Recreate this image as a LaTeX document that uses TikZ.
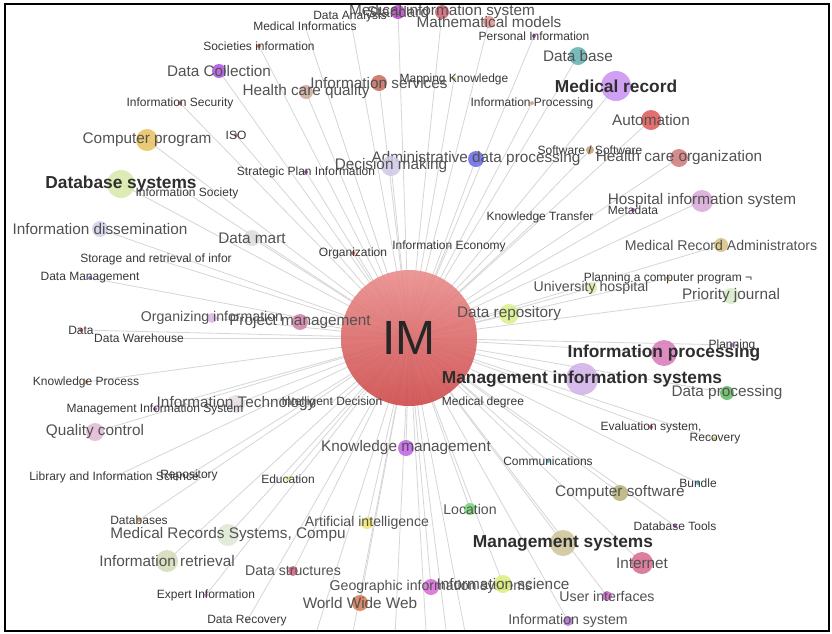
\documentclass[tikz,border=0pt]{standalone}
\usepackage{fontspec}
\setmainfont{Liberation Sans}
\pgfdeclarelayer{bg}
\pgfsetlayers{bg,main}
\definecolor{cStand}{HTML}{C040D0}
\definecolor{cRose}{HTML}{D06070}
\definecolor{cPeach}{HTML}{E09090}
\definecolor{cViolet}{HTML}{A040C0}
\definecolor{cRust}{HTML}{D06040}
\definecolor{cTeal}{HTML}{60B0B0}
\definecolor{cOrchid}{HTML}{B050E0}
\definecolor{cLime}{HTML}{A0D060}
\definecolor{cBrick}{HTML}{C86A5A}
\definecolor{cTan}{HTML}{D0A898}
\definecolor{cLilac}{HTML}{C890F0}
\definecolor{cRed}{HTML}{E04040}
\definecolor{cSand}{HTML}{D0A070}
\definecolor{cCoral}{HTML}{E05555}
\definecolor{cMauve}{HTML}{C06080}
\definecolor{cGold}{HTML}{E8C060}
\definecolor{cKhaki}{HTML}{C8A070}
\definecolor{cBlue}{HTML}{6868E8}
\definecolor{cLav}{HTML}{CFC8E8}
\definecolor{cDusty}{HTML}{D07878}
\definecolor{cYGreen}{HTML}{D8E8A8}
\definecolor{cThistle}{HTML}{D8A8D8}
\definecolor{cPale}{HTML}{D0D0EC}
\definecolor{cSilver}{HTML}{DCDCDC}
\definecolor{cOchre}{HTML}{D8C080}
\definecolor{cPurp}{HTML}{9060D0}
\definecolor{cCream}{HTML}{E4E8A8}
\definecolor{cMint}{HTML}{D8E8C8}
\definecolor{cChart}{HTML}{D8F088}
\definecolor{cHeather}{HTML}{D8B8E0}
\definecolor{cPink}{HTML}{D080A8}
\definecolor{cPlum}{HTML}{A060D0}
\definecolor{cMagenta}{HTML}{D878B8}
\definecolor{cWisteria}{HTML}{D0B0E8}
\definecolor{cOrange}{HTML}{D09050}
\definecolor{cGreen}{HTML}{60B860}
\definecolor{cBlush}{HTML}{E4DCE4}
\definecolor{cFuchsia}{HTML}{B050B0}
\definecolor{cRosy}{HTML}{E0B8D4}
\definecolor{cCerise}{HTML}{D04080}
\definecolor{cMustard}{HTML}{D0C040}
\definecolor{cAmethyst}{HTML}{C060E8}
\definecolor{cCyan}{HTML}{40B0C0}
\definecolor{cYellow}{HTML}{E0E060}
\definecolor{cOlive}{HTML}{B8B078}
\definecolor{cLeaf}{HTML}{70D870}
\definecolor{cAmber}{HTML}{E09040}
\definecolor{cLemon}{HTML}{F0E468}
\definecolor{cFog}{HTML}{DDE8D4}
\definecolor{cSage}{HTML}{CCC498}
\definecolor{cRaspb}{HTML}{D86890}
\definecolor{cMoss}{HTML}{D4DCB8}
\definecolor{cRuby}{HTML}{D06080}
\definecolor{cPhlox}{HTML}{D868D8}
\definecolor{cKiwi}{HTML}{DCF078}
\definecolor{cCandy}{HTML}{D080C0}
\definecolor{cOrchidB}{HTML}{D060D0}
\definecolor{cTerra}{HTML}{D87850}
\definecolor{cIris}{HTML}{B070D0}
\definecolor{cHub}{HTML}{E05050}
\tikzset{
  bub/.style={circle,inner sep=0pt,minimum size=#1*1.5pt,fill opacity=0.85,text opacity=1},
  sm/.style={font=\fontsize{9}{10}\selectfont,text=black!78,inner sep=0pt},
  ms/.style={font=\fontsize{10.6}{12}\selectfont,text=black!68,inner sep=0pt},
  md/.style={font=\fontsize{11.5}{13}\selectfont,text=black!68,inner sep=0pt},
  big/.style={font=\bfseries\fontsize{13}{15}\selectfont,text=black!82,inner sep=0pt},
  link/.style={draw=black!16,line width=0.6pt},
}
\begin{document}
\begin{tikzpicture}[x=0.75pt,y=-0.75pt]
\useasboundingbox (0,0) rectangle (832,633);
% hub
\node[circle,inner sep=0pt,minimum size=136*0.75pt,top color=cHub!65!white,bottom color=cHub!92!black,
  fill opacity=0.9,text opacity=1,font=\fontsize{36}{40}\selectfont,text=black!85] (im) at (409,338) {IM};
% keywords, top
\node[bub=1.5,fill=gray!50,label={[sm]center:Data Analysis}] (dana) at (350,16) {};
\node[bub=7,fill=cStand,label={[md]center:Standard}] (stand) at (398,12) {};
\node[bub=7,fill=cRose,label={[md]center:Medical information system}] (medis) at (442,12) {};
\node[bub=6,fill=cPeach,label={[md]center:Mathematical models}] (mathm) at (489,22) {};
\node[bub=1.5,fill=gray!50,label={[sm]center:Medical Informatics}] (medinf) at (305,26) {};
\node[bub=2,fill=cViolet,label={[sm]center:Personal Information}] (persinf) at (534,36) {};
\node[bub=2,fill=cRust,label={[sm]center:Societies information}] (socinf) at (259,46) {};
\node[bub=9,fill=cTeal,label={[md]center:Data base}] (dbase) at (578,56) {};
\node[bub=7,fill=cOrchid,label={[md]center:Data Collection}] (dcoll) at (219,71) {};
\node[bub=2,fill=cLime,label={[sm]center:Mapping Knowledge}] (mapk) at (454,79) {};
\node[bub=8,fill=cBrick,label={[md]center:Information services}] (infserv) at (379,83) {};
\node[bub=7,fill=cTan,label={[md]center:Health care quality}] (hcq) at (306,92) {};
\node[bub=15,fill=cLilac,label={[big]center:Medical record}] (medrec) at (616,86) {};
\node[bub=2,fill=cRed,label={[sm]center:Information Security}] (infsec) at (180,103) {};
\node[bub=2,fill=cSand,label={[sm]center:Information Processing}] (infproc) at (532,103) {};
\node[bub=10,fill=cCoral,label={[md]center:Automation}] (autom) at (651,120) {};
\node[bub=2,fill=cMauve,label={[sm]center:ISO}] (iso) at (236,135) {};
\node[bub=11,fill=cGold,label={[md]center:Computer program}] (comprog) at (147,140) {};
\node[bub=4,fill=cKhaki,label={[sm]center:Software / Software}] (softw) at (590,150) {};
\node[bub=8,fill=cBlue,label={[md]center:Administrative data processing}] (adp) at (476,159) {};
\node[bub=10,fill=cLav,label={[md]center:Decision making}] (decm) at (391,166) {};
\node[bub=9,fill=cDusty,label={[md]center:Health care organization}] (hco) at (679,158) {};
\node[bub=2,fill=cViolet,label={[sm]center:Strategic Plan Information}] (strat) at (306,172) {};
\node[bub=14,fill=cYGreen,label={[big]center:Database systems}] (dbsys) at (121,184) {};
\node[bub=1.5,fill=gray!50,label={[sm]center:Information Society}] (infsoc) at (187,193) {};
\node[bub=11,fill=cThistle,label={[md]center:Hospital information system}] (his) at (702,201) {};
\node[bub=2,fill=cViolet,label={[sm]center:Metadata}] (meta) at (633,210) {};
\node[bub=1.5,fill=gray!50,label={[sm]center:Knowledge Transfer}] (ktrans) at (540,217) {};
% keywords, middle
\node[bub=8,fill=cPale,label={[md]center:Information dissemination}] (infdis) at (100,229) {};
\node[bub=8,fill=cSilver,label={[md]center:Data mart}] (dmart) at (252,238) {};
\node[bub=7,fill=cOchre,label={[ms]center:Medical Record Administrators}] (mra) at (721,245) {};
\node[bub=1.5,fill=gray!50,label={[sm]center:Storage and retrieval of infor}] (storage) at (156,259) {};
\node[bub=1.5,fill=gray!50,label={[sm]center:Information Economy}] (infeco) at (449,246) {};
\node[bub=2,fill=cRed,label={[sm]center:Organization}] (orga) at (353,253) {};
\node[bub=2,fill=cPurp,label={[sm]center:Data Management}] (dmgmt) at (90,278) {};
\node[bub=2,fill=cSand,label={[sm]center:Planning a computer program ¬}] (pcp) at (668,278) {};
\node[bub=6,fill=cCream,label={[ms]center:University hospital}] (unih) at (591,288) {};
\node[bub=8,fill=cMint,label={[md]center:Priority journal}] (prij) at (731,296) {};
\node[bub=10,fill=cChart,label={[md]center:Data repository}] (drep) at (509,314) {};
\node[bub=5,fill=cHeather,label={[ms]center:Organizing information}] (orginf) at (212,318) {};
\node[bub=8,fill=cPink,label={[md]center:Project management}] (projm) at (300,322) {};
\node[bub=2,fill=cRed,label={[sm]center:Data}] (data) at (81,330) {};
\node[bub=1.5,fill=gray!50,label={[sm]center:Data Warehouse}] (dware) at (139,338) {};
\node[bub=2,fill=cPlum,label={[sm]center:Planning}] (plann) at (732,345) {};
\node[bub=13,fill=cMagenta,label={[big]center:Information processing}] (infpro) at (664,353) {};
\node[bub=16,fill=cWisteria,label={[big]center:Management information systems}] (mis) at (582,379) {};
\node[bub=2,fill=cOrange,label={[sm]center:Knowledge Process}] (kproc) at (86,382) {};
\node[bub=7,fill=cGreen,label={[md]center:Data processing}] (dproc) at (727,393) {};
\node[bub=1.5,fill=gray!50,label={[sm]center:Intelligent Decision}] (intd) at (332,402) {};
\node[bub=9,fill=cBlush,label={[md]center:Information Technology}] (itech) at (236,404) {};
\node[bub=1.5,fill=gray!50,label={[sm]center:Medical degree}] (medd) at (483,402) {};
\node[bub=2,fill=cFuchsia,label={[sm]center:Management Information System}] (mis2) at (155,409) {};
\node[bub=9,fill=cRosy,label={[md]center:Quality control}] (qc) at (95,432) {};
\node[bub=2,fill=cCerise,label={[sm]center:{Evaluation system,}}] (evals) at (651,427) {};
\node[bub=2,fill=cMustard,label={[sm]center:Recovery}] (recov) at (715,439) {};
\node[bub=8,fill=cAmethyst,label={[md]center:Knowledge management}] (km) at (406,448) {};
% keywords, bottom
\node[bub=2,fill=cCyan,label={[sm]center:Communications}] (comm) at (548,461) {};
\node[bub=1.5,fill=gray!50,label={[sm]center:Library and Information Science}] (lis) at (114,477) {};
\node[bub=1.5,fill=gray!50,label={[sm]center:Repository}] (repo) at (189,475) {};
\node[bub=2.5,fill=cYellow,label={[sm]center:Education}] (educ) at (288,479) {};
\node[bub=2,fill=cCyan,label={[sm]center:Bundle}] (bund) at (698,483) {};
\node[bub=8,fill=cOlive,label={[md]center:Computer software}] (csoft) at (620,493) {};
\node[bub=6,fill=cLeaf,label={[ms]center:Location}] (loc) at (470,509) {};
\node[bub=2,fill=cAmber,label={[sm]center:Databases}] (dbases) at (139,520) {};
\node[bub=6,fill=cLemon,label={[ms]center:Artificial intelligence}] (ai) at (367,523) {};
\node[bub=2,fill=cViolet,label={[sm]center:Database Tools}] (dbt) at (675,526) {};
\node[bub=11,fill=cFog,label={[md]center:{Medical Records Systems, Compu}}] (mrsc) at (228,535) {};
\node[bub=13,fill=cSage,label={[big]center:Management systems}] (msys) at (563,543) {};
\node[bub=11,fill=cRaspb,label={[md]center:Internet}] (inet) at (642,563) {};
\node[bub=11,fill=cMoss,label={[md]center:Information retrieval}] (infret) at (167,561) {};
\node[bub=5,fill=cRuby,label={[ms]center:Data structures}] (dstr) at (293,571) {};
\node[bub=8,fill=cPhlox,label={[ms]center:Geographic information systems}] (gis) at (431,587) {};
\node[bub=9,fill=cKiwi,label={[md]center:Information science}] (infsci) at (503,584) {};
\node[bub=2,fill=cCandy,label={[sm]center:Expert Information}] (expert) at (206,595) {};
\node[bub=5,fill=cOrchidB,label={[ms]center:User interfaces}] (ui) at (607,596) {};
\node[bub=8,fill=cTerra,label={[md]center:World Wide Web}] (www) at (360,603) {};
\node[bub=1.5,fill=gray!50,label={[sm]center:Data Recovery}] (drecov) at (247,621) {};
\node[bub=5,fill=cIris,label={[ms]center:Information system}] (infsys) at (568,621) {};
% keywords outside the frame
\coordinate (o1) at (295,700);
\coordinate (o2) at (340,700);
\coordinate (o3) at (392,700);
\coordinate (o4) at (430,700);
\coordinate (o5) at (455,700);
\coordinate (o6) at (478,700);
\begin{pgfonlayer}{bg}
  \fill[white] (0,0) rectangle (832,633);
  \begin{scope}[link]
    \clip (5,4) rectangle (829,631);
    \draw (im.center) to (dana.center);
    \draw (im.center) to (stand.center);
    \draw (im.center) to (medis.center);
    \draw (im.center) to (mathm.center);
    \draw (im.center) to (medinf.center);
    \draw (im.center) to (persinf.center);
    \draw (im.center) to (socinf.center);
    \draw (im.center) to (dbase.center);
    \draw (im.center) to (dcoll.center);
    \draw (im.center) to (mapk.center);
    \draw (im.center) to (infserv.center);
    \draw (im.center) to (hcq.center);
    \draw (im.center) to (medrec.center);
    \draw (im.center) to (infsec.center);
    \draw (im.center) to (infproc.center);
    \draw (im.center) to (autom.center);
    \draw (im.center) to (iso.center);
    \draw (im.center) to (comprog.center);
    \draw (im.center) to (softw.center);
    \draw (im.center) to (adp.center);
    \draw (im.center) to (decm.center);
    \draw (im.center) to (hco.center);
    \draw (im.center) to (strat.center);
    \draw (im.center) to (dbsys.center);
    \draw (im.center) to (infsoc.center);
    \draw (im.center) to (his.center);
    \draw (im.center) to (meta.center);
    \draw (im.center) to (ktrans.center);
    \draw (im.center) to (infdis.center);
    \draw (im.center) to (dmart.center);
    \draw (im.center) to (mra.center);
    \draw (im.center) to (storage.center);
    \draw (im.center) to (infeco.center);
    \draw (im.center) to (orga.center);
    \draw (im.center) to (dmgmt.center);
    \draw (im.center) to (pcp.center);
    \draw (im.center) to (unih.center);
    \draw (im.center) to (prij.center);
    \draw (im.center) to (drep.center);
    \draw (im.center) to (orginf.center);
    \draw (im.center) to (projm.center);
    \draw (im.center) to (data.center);
    \draw (im.center) to (dware.center);
    \draw (im.center) to (plann.center);
    \draw (im.center) to (infpro.center);
    \draw (im.center) to (mis.center);
    \draw (im.center) to (kproc.center);
    \draw (im.center) to (dproc.center);
    \draw (im.center) to (intd.center);
    \draw (im.center) to (itech.center);
    \draw (im.center) to (medd.center);
    \draw (im.center) to (mis2.center);
    \draw (im.center) to (qc.center);
    \draw (im.center) to (evals.center);
    \draw (im.center) to (recov.center);
    \draw (im.center) to (km.center);
    \draw (im.center) to (comm.center);
    \draw (im.center) to (lis.center);
    \draw (im.center) to (repo.center);
    \draw (im.center) to (educ.center);
    \draw (im.center) to (bund.center);
    \draw (im.center) to (csoft.center);
    \draw (im.center) to (loc.center);
    \draw (im.center) to (dbases.center);
    \draw (im.center) to (ai.center);
    \draw (im.center) to (dbt.center);
    \draw (im.center) to (mrsc.center);
    \draw (im.center) to (msys.center);
    \draw (im.center) to (inet.center);
    \draw (im.center) to (infret.center);
    \draw (im.center) to (dstr.center);
    \draw (im.center) to (gis.center);
    \draw (im.center) to (infsci.center);
    \draw (im.center) to (expert.center);
    \draw (im.center) to (ui.center);
    \draw (im.center) to (www.center);
    \draw (im.center) to (drecov.center);
    \draw (im.center) to (infsys.center);
    \draw (im.center) to (o1);
    \draw (im.center) to (o2);
    \draw (im.center) to (o3);
    \draw (im.center) to (o4);
    \draw (im.center) to (o5);
    \draw (im.center) to (o6);
  \end{scope}
\end{pgfonlayer}
% frame
\draw[line width=1.6pt] (5,4) rectangle (829,631);
\end{tikzpicture}
\end{document}
